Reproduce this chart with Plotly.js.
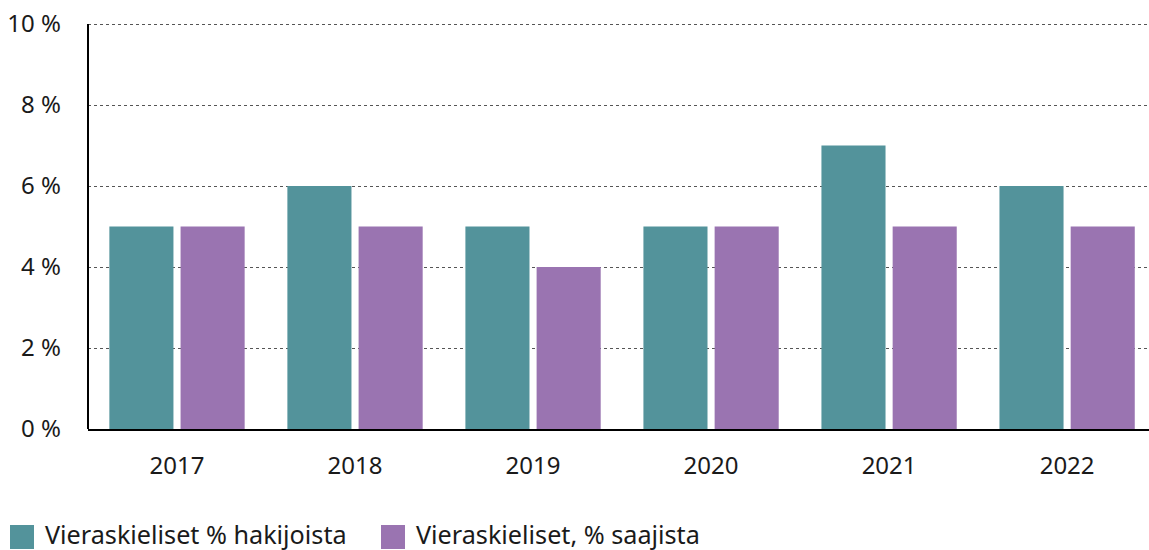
<!DOCTYPE html>
<html><head><meta charset="utf-8">
<script src="https://cdn.plot.ly/plotly-3.0.1.min.js"></script>
<style>html,body{margin:0;padding:0;background:#fff}#c{width:1149px;height:550px}</style>
</head><body><div id="c"></div>
<script>
var years = ['2017','2018','2019','2020','2021','2022'];
var hakijoista = [5,6,5,5,7,6];
var saajista = [5,5,4,5,5,5];
var seriesNames = ['Vieraskieliset % hakijoista','Vieraskieliset, % saajista'];
var colors = ['#53939b','#9a74b1'];
var yTicks = [0,2,4,6,8,10];

var L = 88, T = 20, B = 121, W = 1149, H = 550;
var plotW = W - L, plotH = H - T - B;

var traces = [
  {type:'bar', x:years, y:hakijoista, name:seriesNames[0], marker:{color:colors[0]}, hoverinfo:'y', showlegend:false},
  {type:'bar', x:years, y:saajista, name:seriesNames[1], marker:{color:colors[1]}, hoverinfo:'y', showlegend:false}
];

// custom legend (swatch + text) placed below the plot
var legendX = [10, 381];
var shapes = [
  // y axis line from 0 to the top tick
  {type:'line', xref:'paper', yref:'y', x0:0, x1:0, y0:0, y1:yTicks[yTicks.length-1], line:{color:'#000', width:2}, layer:'above'}
];
var annotations = [];
seriesNames.forEach(function(n, i){
  shapes.push({type:'rect', xref:'paper', yref:'paper', xsizemode:'pixel', ysizemode:'pixel',
    xanchor:0, yanchor:0, x0:legendX[i]-L, x1:legendX[i]+24-L, y0:(H-B)-549, y1:(H-B)-525,
    fillcolor:colors[i], line:{width:0}});
  annotations.push({xref:'paper', yref:'paper', x:(legendX[i]+33-L)/plotW, y:((H-B)-534)/plotH,
    xanchor:'left', yanchor:'middle', showarrow:false, text:n, font:{size:25.2, color:'#1a1a1a'}});
});

var layout = {
  width:W, height:H,
  margin:{l:L, r:0, t:T, b:B},
  font:{family:'"Noto Sans", "Open Sans", sans-serif', size:24, color:'#1a1a1a'},
  barmode:'group', bargap:0.2, bargroupgap:0.1,
  showlegend:false,
  shapes:shapes, annotations:annotations,
  xaxis:{type:'category', range:[-0.5,5.46], showline:true, linecolor:'#000', linewidth:2, ticks:'', ticklabelstandoff:14, showgrid:false, fixedrange:true},
  yaxis:{range:[0,10.1], tickvals:yTicks, ticktext:yTicks.map(function(v){return v+' %';}), showline:false, ticks:'', ticklabelstandoff:26, showgrid:true, gridcolor:'#555', griddash:'dot', gridwidth:1, zeroline:false, fixedrange:true},
  plot_bgcolor:'#fff', paper_bgcolor:'#fff'
};
Plotly.newPlot('c', traces, layout, {displayModeBar:false, staticPlot:true});
</script></body></html>
